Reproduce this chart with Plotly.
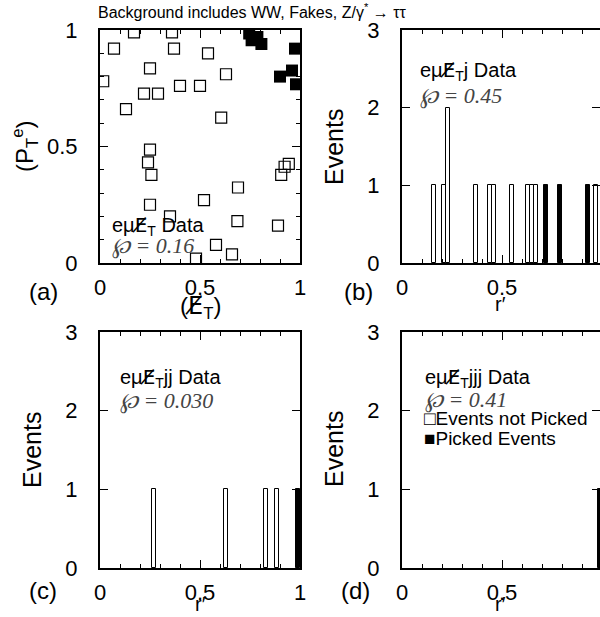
import plotly.graph_objects as go

W, H = 600, 617

# ---------------- data ----------------
a_open_x = [0.17, 0.36, 0.07, 0.37, 0.54, 0.25, 0.63, 0.016, 0.40, 0.50, 0.22, 0.29,
            0.13, 0.606, 0.25, 0.24, 0.257, 0.944, 0.923, 0.906, 0.69, 0.52, 0.25,
            0.35, 0.687, 0.89, 0.58, 0.66, 0.48]
a_open_y = [0.99, 0.99, 0.92, 0.92, 0.90, 0.835, 0.81, 0.78, 0.76, 0.76, 0.727, 0.727,
            0.66, 0.624, 0.487, 0.432, 0.378, 0.425, 0.413, 0.378, 0.324, 0.27, 0.25,
            0.20, 0.18, 0.16, 0.078, 0.037, 0.019]
a_pick_x = [0.746, 0.758, 0.787, 0.807, 0.975, 0.96, 0.90, 0.98]
a_pick_y = [0.985, 0.956, 0.97, 0.94, 0.92, 0.826, 0.80, 0.767]

bin_width = 0.02
b_open_r = [0.16, 0.21, 0.23, 0.37, 0.44, 0.46, 0.55, 0.63, 0.65, 0.67, 0.97]
b_open_n = [1, 1, 2, 1, 1, 1, 1, 1, 1, 1, 1]
b_pick_r = [0.72, 0.79, 0.93]
b_pick_n = [1, 1, 1]
c_open_r = [0.27, 0.63, 0.83, 0.885]
c_open_n = [1, 1, 1, 1]
c_pick_r = [0.99]
c_pick_n = [1]
d_pick_r = [0.99]
d_pick_n = [1]

FONT = "Liberation Sans"
SERIF = "Liberation Serif"
MET = '<span style="font-family:DejaVu Sans">E\u0338</span><sub>T</sub>'

fig = go.Figure()

fig.add_trace(go.Scatter(x=a_open_x, y=a_open_y, mode="markers",
                         marker=dict(symbol="square-open", size=11, color="black",
                                     line=dict(width=1.2, color="black")),
                         xaxis="x", yaxis="y", showlegend=False))
fig.add_trace(go.Scatter(x=a_pick_x, y=a_pick_y, mode="markers",
                         marker=dict(symbol="square", size=12, color="black"),
                         xaxis="x", yaxis="y", showlegend=False))


def bars(r, n, picked, ax):
    fig.add_trace(go.Bar(x=r, y=n, width=bin_width,
                         marker=dict(color="black" if picked else "white",
                                     line=dict(color="black", width=1)),
                         xaxis="x" + ax, yaxis="y" + ax, showlegend=False))


bars(b_open_r, b_open_n, False, "2")
bars(b_pick_r, b_pick_n, True, "2")
bars(c_open_r, c_open_n, False, "3")
bars(c_pick_r, c_pick_n, True, "3")
bars(d_pick_r, d_pick_n, True, "4")


def dx(p0, p1):
    return [p0 / W, min(p1 / W, 1.0)]


def dy(top, bot):
    return [1 - bot / H, 1 - top / H]


tickfont = dict(family=FONT, size=22, color="black")


def xax(dom, rng):
    return dict(domain=dom, range=rng, showline=True, linewidth=2, linecolor="black",
                mirror="ticks", ticks="inside", ticklen=8, tickwidth=1, tickcolor="black",
                tickvals=[0, 0.5, 1], ticktext=["0", "0.5", "1"], tickfont=tickfont,
                ticklabelstandoff=4, automargin=False,
                minor=dict(ticks="inside", ticklen=4, dtick=0.1, tick0=0, tickcolor="black"),
                showgrid=False, zeroline=False, fixedrange=True)


def yax(dom, rng, vals, anchor):
    return dict(domain=dom, range=rng, showline=True, linewidth=2, linecolor="black",
                mirror="ticks", ticks="inside", ticklen=8, tickwidth=1, tickcolor="black",
                tickvals=vals, ticktext=[("%g" % v) for v in vals], tickfont=tickfont,
                ticklabelstandoff=16, anchor=anchor, automargin=False,
                showgrid=False, zeroline=False, fixedrange=True)


top_row = dy(30, 263)
bot_row = dy(332, 568)

fig.update_layout(
    width=W, height=H, autosize=False,
    margin=dict(l=0, r=0, t=0, b=0, pad=0, autoexpand=False),
    paper_bgcolor="white", plot_bgcolor="white", barmode="overlay", bargap=0,
    xaxis=xax(dx(100, 300), [0, 1]),
    yaxis=dict(yax(top_row, [0, 1], [0, 0.5, 1], "x"),
               minor=dict(ticks="inside", ticklen=4, dtick=0.1, tick0=0, tickcolor="black")),
    xaxis2=dict(xax(dx(402, 600), [0, 0.99]), anchor="y2"),
    yaxis2=yax(top_row, [0, 3], [0, 1, 2, 3], "x2"),
    xaxis3=dict(xax(dx(100, 300), [0, 1]), anchor="y3"),
    yaxis3=yax(bot_row, [0, 3], [0, 1, 2, 3], "x3"),
    xaxis4=dict(xax(dx(402, 600), [0, 0.99]), anchor="y4"),
    yaxis4=yax(bot_row, [0, 3], [0, 1, 2, 3], "x4"),
)
fig.layout.xaxis.anchor = "y"


def ann(text, px, py, size=22, family=FONT, color="black", angle=0, xanchor="center",
        italic=False):
    fig.add_annotation(text=text, x=px / W, y=1 - py / H, xref="paper", yref="paper",
                       showarrow=False, xanchor=xanchor, yanchor="middle", textangle=angle,
                       font=dict(family=family, size=size, color=color,
                                 style="italic" if italic else "normal"))


ann("Background includes WW, Fakes, Z/γ<sup>*</sup> → ττ", 252, 11, size=16)

for lab, px, py in [("(a)", 43, 291), ("(b)", 358, 291), ("(c)", 43, 590), ("(d)", 355, 590)]:
    ann(lab, px, py, size=24)

ann("(P<sub>T</sub><sup>e</sup>)", 25, 146, size=24, angle=-90)
ann("(" + MET + ")", 200, 307, size=24)
ann("Events", 334, 147, size=25, angle=-90)
ann("Events", 32, 450, size=25, angle=-90)
ann("Events", 334, 449, size=25, angle=-90)
ann("r′", 500, 304, size=20)
ann("r′", 200, 604, size=20)
ann("r′", 500, 604, size=20)

ann("eμ" + MET + " Data", 110, 226, size=20, xanchor="left")
ann("℘ = 0.16", 110, 246, size=22, family=SERIF, color="#444444", xanchor="left", italic=True)
ann("eμ" + MET + "j Data", 418, 71, size=20, xanchor="left")
ann("℘ = 0.45", 418, 96, size=22, family=SERIF, color="#444444", xanchor="left", italic=True)
ann("eμ" + MET + "jj Data", 118, 378, size=20, xanchor="left")
ann("℘ = 0.030", 118, 401, size=22, family=SERIF, color="#444444", xanchor="left", italic=True)
ann("eμ" + MET + "jjj Data", 423, 378, size=20, xanchor="left")
ann("℘ = 0.41", 423, 400, size=22, family=SERIF, color="#444444", xanchor="left", italic=True)
ann("□Events not Picked", 422, 418, size=19, xanchor="left")
ann("■Picked Events", 422, 439, size=19, xanchor="left")

fig.write_html("out.html", config={"displayModeBar": False},
               post_script="document.body.style.margin='0';document.body.style.padding='0';")
